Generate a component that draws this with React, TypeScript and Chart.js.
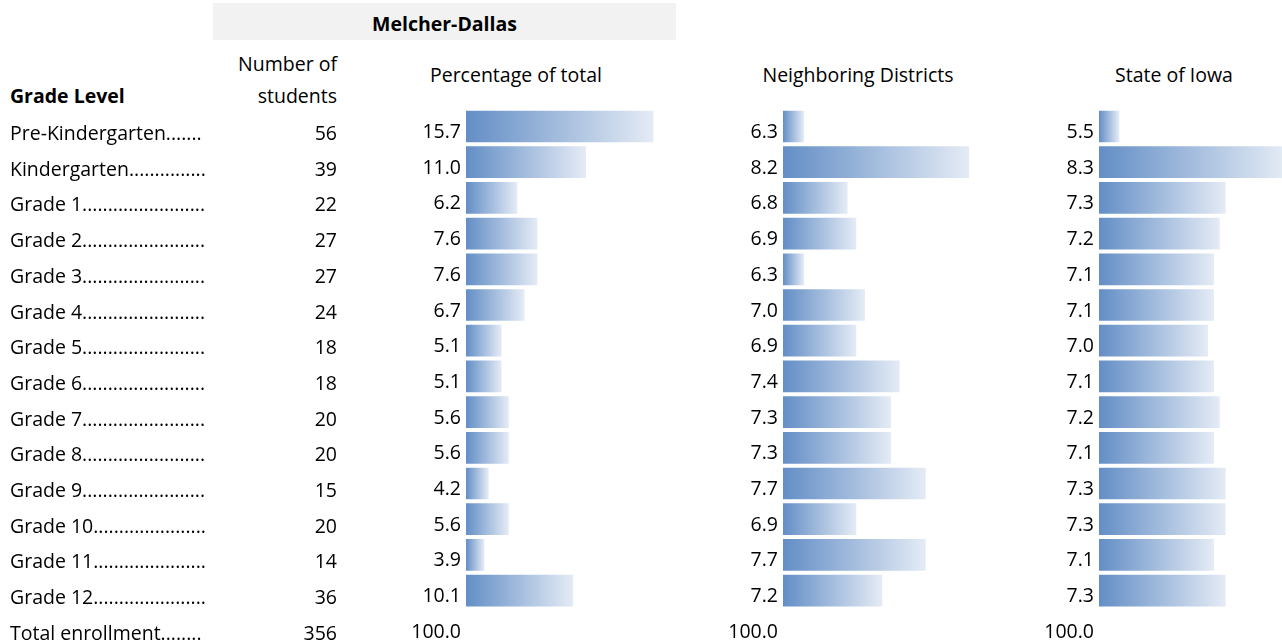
import { useEffect, useRef } from "react";
import { Chart, registerables } from "chart.js";

Chart.register(...registerables);

// ---------- data ----------
const gradeLabels = [
  "Pre-Kindergarten",
  "Kindergarten",
  "Grade 1",
  "Grade 2",
  "Grade 3",
  "Grade 4",
  "Grade 5",
  "Grade 6",
  "Grade 7",
  "Grade 8",
  "Grade 9",
  "Grade 10",
  "Grade 11",
  "Grade 12",
  "Total enrollment",
];
const studentCounts = [56, 39, 22, 27, 27, 24, 18, 18, 20, 20, 15, 20, 14, 36, 356];
const pctOfTotal = [15.7, 11.0, 6.2, 7.6, 7.6, 6.7, 5.1, 5.1, 5.6, 5.6, 4.2, 5.6, 3.9, 10.1];
const neighboringPct = [6.3, 8.2, 6.8, 6.9, 6.3, 7.0, 6.9, 7.4, 7.3, 7.3, 7.7, 6.9, 7.7, 7.2];
const iowaPct = [5.5, 8.3, 7.3, 7.2, 7.1, 7.1, 7.0, 7.1, 7.2, 7.1, 7.3, 7.3, 7.1, 7.3];
const totalPct = 100.0;

// ---------- styling ----------
const FONT = '"Open Sans", sans-serif';
const FONT_SIZE = 19.5;
const BAR_START = "#638EC6";
const BAR_END = "#E4EBF5";
const CANVAS_TOP = 88;
const CANVAS_H = 577;
const PAD_TOP = 20.65;
const ROWS_H = 535.5;

type PanelCfg = {
  values: number[];
  axisWidth: number;
  xMin: number;
  xMax: number;
  plugins?: any[];
};

function makePanel(canvas: HTMLCanvasElement, cfg: PanelCfg) {
  const data = [...cfg.values, null];
  return new Chart(canvas, {
    type: "bar",
    data: {
      labels: gradeLabels,
      datasets: [
        {
          data: data as any,
          barThickness: 31,
          borderWidth: 0,
          backgroundColor: (ctx: any) => {
            const chart = ctx.chart;
            const area = chart.chartArea;
            const v = ctx.raw;
            if (!area || v == null) return BAR_START;
            const x0 = area.left;
            const x1 = chart.scales.x.getPixelForValue(v);
            const g = chart.ctx.createLinearGradient(x0, 0, Math.max(x1, x0 + 1), 0);
            g.addColorStop(0, BAR_START);
            g.addColorStop(1, BAR_END);
            return g;
          },
        },
      ],
    },
    options: {
      indexAxis: "y",
      responsive: false,
      animation: false,
      devicePixelRatio: 1,
      layout: {
        padding: { top: PAD_TOP, bottom: CANVAS_H - PAD_TOP - ROWS_H, left: 0, right: 0 },
      },
      plugins: {
        legend: { display: false },
        tooltip: { enabled: false },
      },
      scales: {
        x: {
          display: false,
          min: cfg.xMin,
          max: cfg.xMax,
        },
        y: {
          afterFit: (scale: any) => {
            scale.width = cfg.axisWidth;
          },
          grid: { display: false, drawTicks: false },
          border: { display: false },
          ticks: {
            autoSkip: false,
            padding: 5,
            labelOffset: 6,
            color: "#000",
            font: { family: FONT, size: FONT_SIZE },
            callback: (_v: any, i: number) =>
              i < cfg.values.length ? cfg.values[i].toFixed(1) : totalPct.toFixed(1),
          },
        },
      },
    } as any,
    plugins: cfg.plugins || [],
  });
}

const rowLabelPlugin = {
  id: "rowLabels",
  afterDraw(chart: any) {
    const ctx = chart.ctx;
    const y = chart.scales.y;
    ctx.save();
    ctx.font = `${FONT_SIZE}px ${FONT}`;
    ctx.fillStyle = "#000";
    ctx.textBaseline = "alphabetic";
    gradeLabels.forEach((lab, i) => {
      const py = y.getPixelForValue(i) + 13.5;
      let t = lab;
      while (ctx.measureText(t + ".").width <= 196) t += ".";
      ctx.textAlign = "left";
      ctx.fillText(t, 10, py);
      ctx.textAlign = "right";
      ctx.fillText(String(studentCounts[i]), 337, py);
    });
    ctx.restore();
  },
};

const textBase: any = {
  position: "absolute",
  fontFamily: FONT,
  fontSize: FONT_SIZE,
  lineHeight: "30px",
  whiteSpace: "nowrap",
  color: "#000",
};

export default function App() {
  const refA = useRef<HTMLCanvasElement>(null);
  const refB = useRef<HTMLCanvasElement>(null);
  const refC = useRef<HTMLCanvasElement>(null);

  useEffect(() => {
    const charts: Chart[] = [];
    if (refA.current)
      charts.push(
        makePanel(refA.current, {
          values: pctOfTotal,
          axisWidth: 466,
          xMin: 2.64,
          xMax: 18.0,
          plugins: [rowLabelPlugin],
        })
      );
    if (refB.current)
      charts.push(
        makePanel(refB.current, {
          values: neighboringPct,
          axisWidth: 90,
          xMin: 6.06,
          xMax: 8.364,
        })
      );
    if (refC.current)
      charts.push(
        makePanel(refC.current, {
          values: iowaPct,
          axisWidth: 90,
          xMin: 5.16,
          xMax: 8.26,
        })
      );
    return () => charts.forEach((c) => c.destroy());
  }, []);

  return (
    <div
      style={{
        position: "fixed",
        left: 0,
        top: 0,
        width: 1282,
        height: 644,
        overflow: "hidden",
        background: "#fff",
      }}
    >
      <div
        style={{
          position: "absolute",
          left: 213,
          top: 3,
          width: 463,
          height: 37,
          background: "#F2F2F2",
        }}
      />
      <div style={{ ...textBase, left: 213, top: 9.4, width: 463, textAlign: "center", fontWeight: 700 }}>
        Melcher-Dallas
      </div>
      <div style={{ ...textBase, left: 200, top: 49.1, width: 137, textAlign: "right" }}>Number of</div>
      <div style={{ ...textBase, left: 200, top: 80.5, width: 137, textAlign: "right" }}>students</div>
      <div style={{ ...textBase, left: 10, top: 80.5, fontWeight: 700 }}>Grade Level</div>
      <div style={{ ...textBase, left: 416, top: 60.4, width: 200, textAlign: "center" }}>
        Percentage of total
      </div>
      <div style={{ ...textBase, left: 758, top: 60.4, width: 200, textAlign: "center" }}>
        Neighboring Districts
      </div>
      <div style={{ ...textBase, left: 1074, top: 60.4, width: 200, textAlign: "center" }}>
        State of Iowa
      </div>

      <canvas
        ref={refA}
        width={686}
        height={CANVAS_H}
        style={{ position: "absolute", left: 0, top: CANVAS_TOP }}
      />
      <canvas
        ref={refB}
        width={290}
        height={CANVAS_H}
        style={{ position: "absolute", left: 693, top: CANVAS_TOP }}
      />
      <canvas
        ref={refC}
        width={273}
        height={CANVAS_H}
        style={{ position: "absolute", left: 1009, top: CANVAS_TOP }}
      />
    </div>
  );
}
